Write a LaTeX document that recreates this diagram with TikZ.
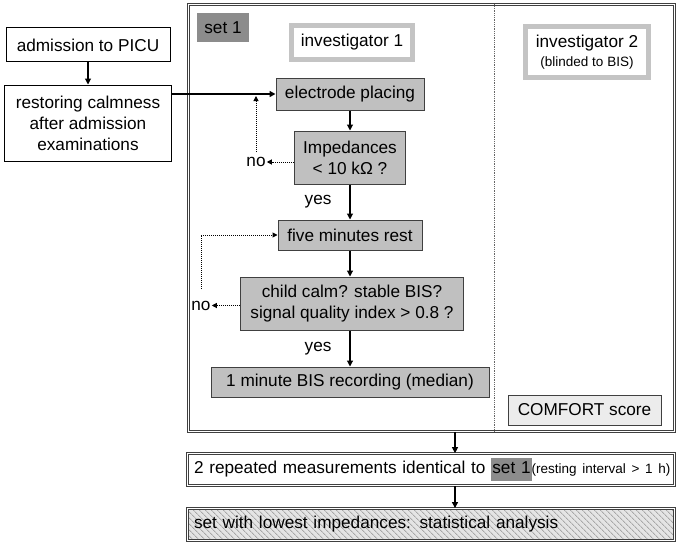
\documentclass[tikz,border=0pt]{standalone}
\usepackage{fontspec}
\setmainfont{Liberation Sans}
\usepackage{xcolor}
\usepackage{tikz}
\usetikzlibrary{arrows.meta, positioning, calc, patterns.meta}
\definecolor{boxgrey}{HTML}{C0C0C0}
\definecolor{setgrey}{HTML}{8C8C8C}
\definecolor{invgrey}{HTML}{C4C4C4}
\definecolor{lightfill}{HTML}{ECECEC}
\definecolor{hatchbg}{HTML}{E4E4E4}
\definecolor{hatchfg}{HTML}{A8A8A8}
\newcommand{\bigfont}{\fontsize{17.2}{21}\selectfont}
\newcommand{\smallfont}{\fontsize{13.5}{16}\selectfont}
\tikzset{
  box/.style    = {rectangle, draw=black, line width=1pt, fill=white,
                   align=center, inner sep=0pt, font=\bigfont},
  boxG/.style   = {box, draw=black!75, fill=boxgrey},
  boxD/.style   = {box, draw=none, fill=setgrey},
  boxL/.style   = {box, draw=black!75, fill=lightfill},
  boxI/.style   = {box, draw=invgrey, line width=5pt},
  frame/.style  = {rectangle, draw=black!75, double, double distance=1.4pt,
                   line width=0.7pt, inner sep=0pt, font=\bigfont},
  lbl/.style    = {inner sep=0pt, font=\bigfont},
  arrow/.style  = {line width=1.1pt, -{Triangle[length=6pt,width=6pt]}},
  dotarrow/.style = {densely dotted, line width=1pt, -{Triangle[length=5pt,width=5pt]}},
  dotline/.style  = {densely dotted, line width=0.8pt, draw=black!60},
}
\begin{document}
\begin{tikzpicture}[x=1pt, y=-1pt]
    \useasboundingbox (0,0) rectangle (685,551);

    %% Admission (left column)
    \node[box, minimum width=164, minimum height=34] (adm)     at (88, 45)  {admission to PICU};
    \node[box, minimum width=167, minimum height=76] (restore) at (88, 123) {restoring calmness\\after admission\\examinations};
    \draw[arrow] (adm) -- (restore);

    %% Set 1 frame with divider
    \node[frame, minimum width=486, minimum height=427] (set) at (431.5, 218) {};
    \coordinate (div) at (494, 0);
    \draw[dotline] (set.north -| div) -- (set.south -| div);
    \node[boxD, minimum width=52, minimum height=29]  (set1) at (223, 27.5) {set 1};
    \node[boxI, minimum width=121, minimum height=34] (inv1) at (352, 42.5) {investigator 1};
    \node[boxI, minimum width=123, minimum height=51] (inv2) at (587, 52)
         {investigator 2\\[-2pt]{\smallfont (blinded to BIS)}};

    %% Investigator 1 steps
    \node[boxG, minimum width=148, minimum height=32] (elec) at (350, 94)    {electrode placing};
    \node[boxG, minimum width=111, minimum height=53] (imp)  at (350, 157.5) {Impedances\\< 10 kΩ ?};
    \node[boxG, minimum width=144, minimum height=30] (five) at (350, 235)   {five minutes rest};
    \node[boxG, minimum width=223, minimum height=53] (calm) at (352, 303.5)
         {child calm? stable BIS?\\signal quality index > 0.8 ?};
    \node[boxG, minimum width=278, minimum height=30] (rec)  at (350, 382)   {1 minute BIS recording (median)};

    \draw[arrow, line width=1.6pt] (restore.east |- elec.west) -- (elec.west);
    \draw[arrow] (elec) -- (imp);
    \draw[arrow] (imp)  -- node[lbl, left=18pt]{yes} (five);
    \draw[arrow] (five) -- (five |- calm.north);
    \draw[arrow] (five |- calm.south) -- node[lbl, left=18pt]{yes} (rec);

    %% Loops back
    \node[lbl] (no1) at (256, 162)   {no};
    \node[lbl] (no2) at (201, 305.5) {no};
    \draw[dotarrow, shorten >=1pt] (imp.west |- no1) -- (no1.east);
    \draw[dotarrow, shorten <=5pt, shorten >=2pt] (no1.north) -- (no1.north |- elec.west);
    \draw[dotarrow, shorten >=1pt] (calm.west |- no2) -- (no2.east);
    \draw[dotarrow, shorten <=12pt] (no2.north) |- (five.west);

    %% Investigator 2
    \node[boxL, minimum width=153, minimum height=30] (comfort) at (584.5, 410) {COMFORT score};

    %% Repetitions and analysis
    \node[frame, minimum width=487, minimum height=32, text width=474, align=left] (rep) at (431, 469.5)
         {\mbox{2 repeated measurements identical to {\setlength{\fboxsep}{1pt}\colorbox{setgrey}{\strut set 1}}{\smallfont(resting interval > 1 h)}}};
    \node[frame, minimum width=487, minimum height=32, text width=474, align=left,
          preaction={fill=hatchbg}, pattern={Lines[angle=-45,distance=4pt,line width=0.9pt]},
          pattern color=hatchfg] (stat) at (431, 524.5)
         {set with lowest impedances: statistical analysis};

    \coordinate (ax) at (455, 0);
    \draw[arrow] (set.south -| ax) -- (rep.north -| ax);
    \draw[arrow] (rep.south -| ax) -- (stat.north -| ax);

\end{tikzpicture}
\end{document}
